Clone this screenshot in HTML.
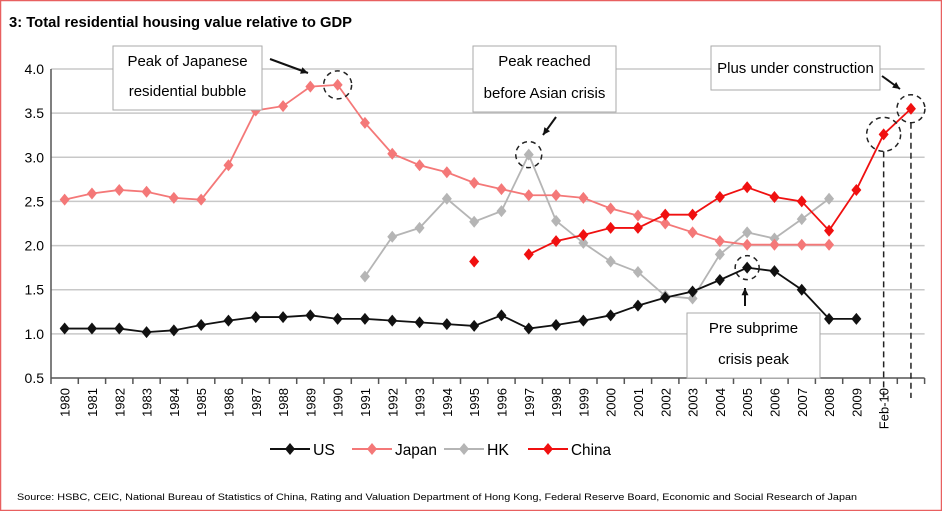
<!DOCTYPE html>
<html><head><meta charset="utf-8"><style>
body{margin:0;background:#fff;}
svg{display:block;font-family:"Liberation Sans",sans-serif;}
</style></head><body>
<svg id="chart" width="942" height="511">
<rect x="0.5" y="0.5" width="941" height="510" fill="#fff" stroke="#e86060" stroke-width="1.5"/>
<text x="9" y="27" font-size="15" font-weight="bold" textLength="343" lengthAdjust="spacingAndGlyphs">3: Total residential housing value relative to GDP</text>
<g id="grid"></g><g id="axes"></g><g id="series"></g><g id="annot"></g>
<text x="17" y="500" font-size="9" textLength="840" lengthAdjust="spacingAndGlyphs">Source: HSBC, CEIC, National Bureau of Statistics of China, Rating and Valuation Department of Hong Kong, Federal Reserve Board, Economic and Social Research of Japan</text>
</svg>
<script>
const categories=["1980","1981","1982","1983","1984","1985","1986","1987","1988","1989","1990","1991","1992","1993","1994","1995","1996","1997","1998","1999","2000","2001","2002","2003","2004","2005","2006","2007","2008","2009","Feb-10",""];
const usValues=[1.06,1.06,1.06,1.02,1.04,1.10,1.15,1.19,1.19,1.21,1.17,1.17,1.15,1.13,1.11,1.09,1.21,1.06,1.10,1.15,1.21,1.32,1.41,1.48,1.61,1.75,1.71,1.50,1.17,1.17,null,null];
const japanValues=[2.52,2.59,2.63,2.61,2.54,2.52,2.91,3.53,3.58,3.80,3.82,3.39,3.04,2.91,2.83,2.71,2.64,2.57,2.57,2.54,2.42,2.34,2.25,2.15,2.05,2.01,2.01,2.01,2.01,null,null,null];
const hkValues=[null,null,null,null,null,null,null,null,null,null,null,1.65,2.10,2.20,2.53,2.27,2.39,3.03,2.28,2.03,1.82,1.70,1.43,1.40,1.90,2.15,2.08,2.30,2.53,null,null,null];
const chinaData=[null,null,null,null,null,null,null,null,null,null,null,null,null,null,null,1.82,null,1.90,2.05,2.12,2.20,2.20,2.35,2.35,2.55,2.66,2.55,2.50,2.17,2.63,3.26,3.55];
const yTicks=[0.5,1.0,1.5,2.0,2.5,3.0,3.5,4.0];

const NS="http://www.w3.org/2000/svg";
const x0=51,band=27.3,yMin=0.5,yMax=4.0,yTop=69,yBot=378;
const X=i=>x0+band*(i+0.5);
const Y=v=>yBot-(v-yMin)/(yMax-yMin)*(yBot-yTop);
function mk(p,tag,at){const e=document.createElementNS(NS,tag);for(const k in at)e.setAttribute(k,at[k]);p.appendChild(e);return e;}
const grid=document.getElementById('grid'),axes=document.getElementById('axes'),ser=document.getElementById('series'),an=document.getElementById('annot');
const xEnd=x0+band*categories.length;
yTicks.forEach(t=>{
 const l=mk(grid,'line',{x1:x0,x2:xEnd,y1:Y(t),y2:Y(t),stroke:t===0.5?'#555':'#c8c8c8','stroke-width':1.5});
 
 
 const tx=mk(axes,'text',{x:x0-7,y:Y(t)+5,'text-anchor':'end','font-size':14});
 tx.textContent=t.toFixed(1);
 
 
});
const ya=mk(axes,'line',{x1:x0,x2:x0,y1:yTop,y2:yBot,stroke:'#555','stroke-width':1.5});


for(let i=0;i<=categories.length;i++){mk(axes,'line',{x1:x0+band*i,x2:x0+band*i,y1:yBot,y2:yBot+6,stroke:'#555','stroke-width':1.5});}
categories.forEach((c,i)=>{
 if(!c)return;
 const tx=mk(axes,'text',{transform:`translate(${X(i)+5},${yBot+10}) rotate(-90)`,'text-anchor':'end','font-size':13});
 tx.textContent=c;
 
 
});
function series(vals,color,name){
 const g=mk(ser,'g',{});
 
 
 let seg=[];const segs=[];
 vals.forEach((v,i)=>{if(v==null){if(seg.length)segs.push(seg);seg=[];}else seg.push([X(i),Y(v)]);});
 if(seg.length)segs.push(seg);
 segs.forEach(s=>{if(s.length>1)mk(g,'polyline',{points:s.map(p=>p.join(',')).join(' '),fill:'none',stroke:color,'stroke-width':1.8});});
 vals.forEach((v,i)=>{if(v==null)return;const x=X(i),y=Y(v);
  const m=mk(g,'path',{d:`M${x},${y-6}L${x+5},${y}L${x},${y+6}L${x-5},${y}Z`,fill:color});
  
  });
}
series(hkValues,'#b5b5b5','hk');
series(japanValues,'#f47878','japan');
series(usValues,'#111','us');
series(chinaData,'#f01010','china');
function box(x,y,w,h,lines,name,ly){
 const g=mk(an,'g',{});
 
 
 mk(g,'rect',{x,y,width:w,height:h,fill:'#fff',stroke:'#aaa','stroke-width':1});
 lines.forEach((t,k)=>{const tx=mk(g,'text',{x:x+w/2,y:y+ly[k],'text-anchor':'middle','font-size':15});tx.textContent=t;});
}
box(113,46,149,64,['Peak of Japanese','residential bubble'],'annotation-japan-peak',[20,50]);
box(473,46,143,66,['Peak reached','before Asian crisis'],'annotation-asian-crisis',[20,52]);
box(711,46,169,44,['Plus under construction'],'annotation-construction',[27]);
box(687,313,133,65,['Pre subprime','crisis peak'],'annotation-subprime',[20,51]);
function circ(cx,cy,r){mk(an,'circle',{cx,cy,r,fill:'none',stroke:'#222','stroke-width':1.5,'stroke-dasharray':'5,4'});}
circ(X(10),Y(3.82),14);circ(X(17),Y(3.03),13);circ(X(25),Y(1.75),12);circ(X(30),Y(3.26),17);circ(X(31),Y(3.55),14);
mk(an,'line',{x1:X(30),x2:X(30),y1:Y(3.26)+17,y2:yBot+20,stroke:'#222','stroke-width':1.5,'stroke-dasharray':'6,4'});
mk(an,'line',{x1:X(31),x2:X(31),y1:Y(3.55)+14,y2:yBot+20,stroke:'#222','stroke-width':1.5,'stroke-dasharray':'6,4'});
function arrow(x1,y1,x2,y2){mk(an,'line',{x1,y1,x2,y2,stroke:'#111','stroke-width':2});
 const a=Math.atan2(y2-y1,x2-x1),s=8;
 mk(an,'path',{d:`M${x2},${y2}L${x2-s*Math.cos(a-0.45)},${y2-s*Math.sin(a-0.45)}L${x2-s*Math.cos(a+0.45)},${y2-s*Math.sin(a+0.45)}Z`,fill:'#111'});}
arrow(270,59,308,73);arrow(556,117,543,135);arrow(882,76,900,89);arrow(745,306,745,288);
const lg=mk(an,'g',{});


[['US','#111',270,22],['Japan','#f47878',352,42],['HK','#b5b5b5',444,22],['China','#f01010',528,40]].forEach(([n,c,x,tw])=>{
 const e=mk(lg,'g',{});
 
 
 mk(e,'line',{x1:x,x2:x+40,y1:449,y2:449,stroke:c,'stroke-width':2});
 mk(e,'path',{d:`M${x+20},443L${x+25},449L${x+20},455L${x+15},449Z`,fill:c});
 const t=mk(e,'text',{x:x+43,y:455,'font-size':16,textLength:tw,lengthAdjust:'spacingAndGlyphs'});t.textContent=n;
});
</script>
</body></html>
